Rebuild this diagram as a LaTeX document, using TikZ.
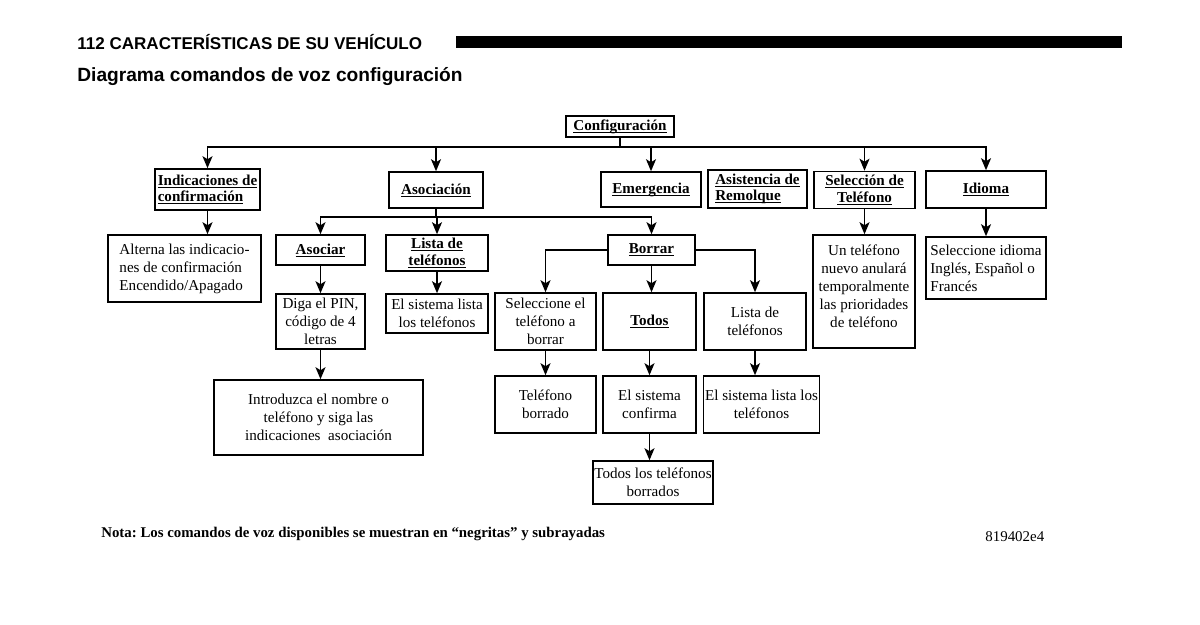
\documentclass[tikz,border=0pt]{standalone}
\usepackage{fontspec}
\setmainfont{Liberation Serif}
\newfontfamily\headfont{Liberation Sans}
\usetikzlibrary{arrows, arrows.meta}
\newcommand{\vozcmd}[1]{\setbox0=\hbox{\textbf{#1}}\rlap{\rule[-1.4pt]{\wd0}{0.5pt}}\box0}

\begin{document}
\begin{tikzpicture}[x=0.2mm, y=-0.2mm]
            \tikzset{box/.style = {shape=rectangle, draw, line width=0.9pt, align=center, inner sep=0.3mm, font=\fontsize{8.6}{10.3}\selectfont}}
            \tikzset{edge/.style = {-, > = {Stealth[length=2.4mm, width=2mm, inset=0.6mm]}, line width=0.9pt}}
            \useasboundingbox (0, 0) rectangle (1200, 624);
            % page header
            \node[anchor=base west, inner sep=0, font=\headfont\bfseries\fontsize{9.7}{11}\selectfont] (page) at (77, 49) {112 CARACTERÍSTICAS DE SU VEHÍCULO};
            \fill (456, 36) rectangle (1122, 48);
            \node[anchor=base west, inner sep=0, font=\headfont\bfseries\fontsize{10.9}{13}\selectfont] (title) at (77, 81) {Diagrama comandos de voz configuración};
            % first level
            \node[box, minimum width=21.6mm, minimum height=4.2mm] (conf) at (620, 126.5) {\vozcmd{Configuración}};
            \node[box, align=left, minimum width=21mm, minimum height=8.2mm] (ind) at (207.5, 189.5) {\vozcmd{Indicaciones de}\\[-1pt]\vozcmd{confirmación}};
            \node[box, minimum width=18.8mm, minimum height=7.2mm] (asoc) at (436, 190) {\vozcmd{Asociación}};
            \node[box, minimum width=20mm, minimum height=7mm] (emer) at (651, 189.5) {\vozcmd{Emergencia}};
            \node[box, align=left, minimum width=19.8mm, minimum height=7.6mm] (asist) at (757.5, 189) {\vozcmd{Asistencia de}\\[-1pt]\vozcmd{Remolque}};
            \node[box, minimum width=20.2mm, minimum height=7.4mm] (sel) at (864.5, 190) {\vozcmd{Selección de}\\[-1pt]\vozcmd{Teléfono}};
            \node[box, minimum width=24mm, minimum height=7.4mm] (idi) at (986, 189.5) {\vozcmd{Idioma}};
            % second level
            \node[box, align=left, minimum width=30.6mm, minimum height=13.4mm] (alt) at (184.5, 268.5) {Alterna las indicacio-\\nes de confirmación\\Encendido/Apagado};
            \node[box, minimum width=17.8mm, minimum height=6mm] (asr) at (320.5, 250) {\vozcmd{Asociar}};
            \node[box, minimum width=20.4mm, minimum height=7.2mm] (lista) at (437, 253) {\vozcmd{Lista de}\\[-1pt]\vozcmd{teléfonos}};
            \node[box, minimum width=17.4mm, minimum height=6mm] (borr) at (651.5, 250) {\vozcmd{Borrar}};
            \node[box, inner sep=0.6mm] (untel) at (864, 291.5) {\parbox[c][21.4mm][t]{19.2mm}{\centering\rule{0pt}{10pt}Un teléfono\\nuevo anulará\\temporalmente\\las prioridades\\de teléfono}};
            \node[box, align=left, minimum width=24mm, minimum height=12.4mm] (selidi) at (986, 268) {Seleccione idioma\\Inglés, Español o\\Francés};
            % third level
            \node[box, minimum width=17.8mm, minimum height=11mm] (diga) at (320.5, 321.5) {Diga el PIN,\\código de 4\\letras};
            \node[box, minimum width=20.4mm, minimum height=7.8mm] (sistl) at (437, 313.5) {El sistema lista\\los teléfonos};
            \node[box, minimum width=20.2mm, minimum height=11.4mm] (selb) at (545.5, 321.5) {Seleccione el\\teléfono a\\borrar};
            \node[box, minimum width=18.6mm, minimum height=11.4mm] (todos) at (649.5, 321.5) {\vozcmd{Todos}};
            \node[box, minimum width=20.4mm, minimum height=11.4mm] (listb) at (755, 321.5) {Lista de\\teléfonos};
            % fourth level
            \node[box, minimum width=41.8mm, minimum height=15mm] (intro) at (318.5, 417.5) {Introduzca el nombre o\\teléfono y siga las\\indicaciones\ \ asociación};
            \node[box, minimum width=20.2mm, minimum height=11.4mm] (telb) at (545.5, 404.5) {Teléfono\\borrado};
            \node[box, minimum width=18.6mm, minimum height=11.4mm] (sconf) at (649.5, 404.5) {El sistema\\confirma};
            \node[box, minimum width=23mm, minimum height=11.4mm] (sistlb) at (761.5, 404.5) {El sistema lista los\\teléfonos};
            \node[box, minimum width=24mm, minimum height=8.6mm] (todb) at (653, 482.5) {Todos los teléfonos\\borrados};
            % footer
            \node[anchor=base west, inner sep=0, font=\bfseries\frenchspacing\fontsize{8.45}{10}\selectfont] (note) at (101, 537) {Nota: Los comandos de voz disponibles se muestran en “negritas” y subrayadas};
            \node[anchor=base west, inner sep=0, font=\fontsize{8.5}{10}\selectfont] (code) at (985, 541) {819402e4};
            % connectors
            \draw[edge,->] (conf.south) -- ++(0, 9) -| (ind.north);
            \draw[edge,->] (conf.south) -- ++(0, 9) -| (asoc.north);
            \draw[edge,->] (conf.south) -- ++(0, 9) -| (emer.north);
            \draw[edge,->] (conf.south) -- ++(0, 9) -| (sel.north);
            \draw[edge,->] (conf.south) -- ++(0, 9) -| (idi.north);
            \draw[edge,->] (ind.south) -- (ind.south |- alt.north);
            \draw[edge,->] (asoc.south) -- ++(0, 8) -| (asr.north);
            \draw[edge,->] (asoc.south) -- ++(0, 8) -| (lista.north);
            \draw[edge,->] (asoc.south) -- ++(0, 8) -| (borr.north);
            \draw[edge,->] (asr.south) -- (diga.north);
            \draw[edge,->] (diga.south) -- (diga.south |- intro.north);
            \draw[edge,->] (lista.south) -- (sistl.north);
            \draw[edge,->] (borr.west) -| (selb.north);
            \draw[edge,->] (borr.south) -- (borr.south |- todos.north);
            \draw[edge,->] (borr.east) -| (listb.north);
            \draw[edge,->] (selb.south) -- (telb.north);
            \draw[edge,->] (todos.south) -- (sconf.north);
            \draw[edge,->] (listb.south) -- (listb.south |- sistlb.north);
            \draw[edge,->] (sconf.south) -- (sconf.south |- todb.north);
            \draw[edge,->] (sel.south) -- (sel.south |- untel.north);
            \draw[edge,->] (idi.south) -- (selidi.north);
          \end{tikzpicture}
\end{document}
